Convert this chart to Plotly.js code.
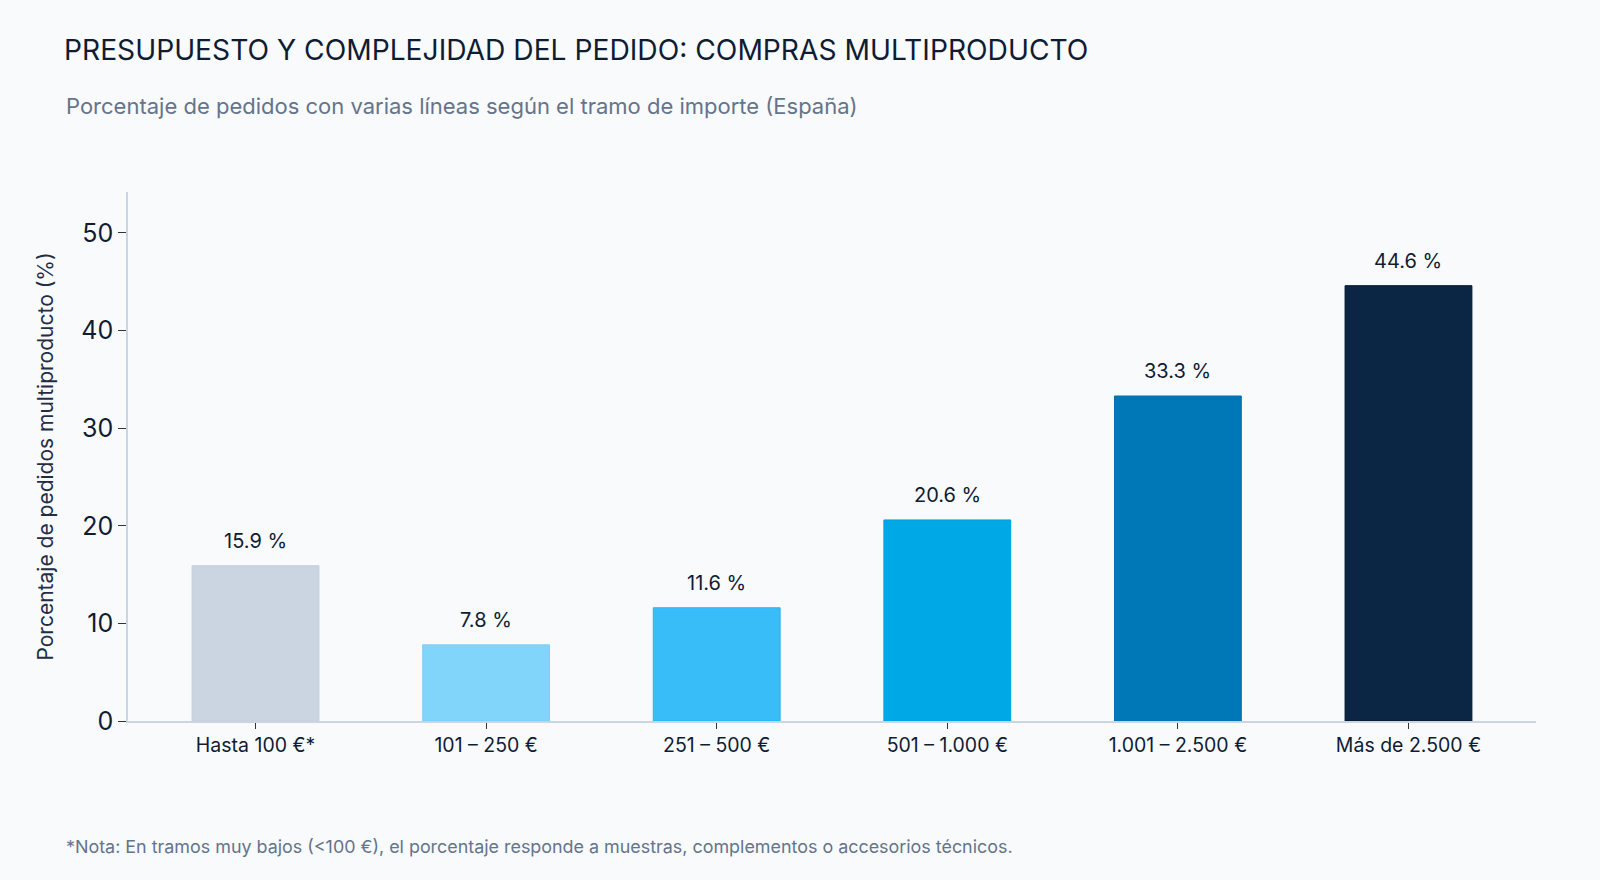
<!DOCTYPE html>
<html>
<head>
<meta charset="utf-8">
<script src="https://cdn.plot.ly/plotly-3.0.1.min.js"></script>
<style>
  html, body { margin: 0; padding: 0; background: #f8fafc; }
  #chart { width: 1600px; height: 880px; }
</style>
</head>
<body>
<div id="chart"></div>
<script>
// Tramos de importe y porcentaje de pedidos multiproducto
const tramos = ['Hasta 100 €*', '101 – 250 €', '251 – 500 €', '501 – 1.000 €', '1.001 – 2.500 €', 'Más de 2.500 €'];
const porcentajes = [15.9, 7.8, 11.6, 20.6, 33.3, 44.6];
const colores = ['#cbd5e1', '#81d4fa', '#38bdf8', '#00a8e6', '#0077b6', '#0b2545'];
const bordes = ['#c3cedb', '#7ccdf4', '#1fb4f2', '#009fdc', '#0a6fae', '#06162c'];

const FONT = 'Inter, "Open Sans", sans-serif';
const chart = document.getElementById('chart');

// plot area edges in px (used to place the free texts)
const M = { l: 128, r: 64, t: 192, b: 159 };
const plotH = 880 - M.t - M.b;
const plotW = 1600 - M.l - M.r;
const paperX = (px) => (px - M.l) / plotW;
const paperY = (py) => (880 - M.b - py) / plotH;

const data = [
  {
    type: 'bar',
    x: tramos,
    y: porcentajes,
    width: 0.55,
    marker: {
      color: colores,
      line: { color: bordes, width: 1 },
    },
    hoverinfo: 'x+y',
  },
];

// etiquetas de valor sobre cada barra
const etiquetas = tramos.map((t, i) => ({
  x: t,
  y: porcentajes[i],
  xref: 'x',
  yref: 'y',
  text: `${porcentajes[i].toFixed(1)} %`,
  showarrow: false,
  yanchor: 'bottom',
  yshift: 11,
  font: { family: FONT, size: 20, color: '#0f1c33' },
}));

const layout = {
  width: 1600,
  height: 880,
  paper_bgcolor: '#f8fafc',
  plot_bgcolor: '#f8fafc',
  margin: M,
  showlegend: false,
  title: {
    text: 'PRESUPUESTO Y COMPLEJIDAD DEL PEDIDO: COMPRAS MULTIPRODUCTO',
    x: 64 / 1600,
    xanchor: 'left',
    xref: 'container',
    y: 1 - 50 / 880,
    yanchor: 'middle',
    yref: 'container',
    font: { family: FONT, size: 28.2, color: '#0f1c33' },
  },
  xaxis: {
    type: 'category',
    range: [-0.553, 5.553],
    showgrid: false,
    zeroline: false,
    showline: true,
    linecolor: '#cbd5e1',
    linewidth: 1.5,
    ticks: 'outside',
    ticklen: 6,
    tickcolor: '#333',
    tickfont: { family: FONT, size: 19.5, color: '#0f1c33' },
  },
  yaxis: {
    range: [0, 54.2],
    dtick: 10,
    showgrid: false,
    zeroline: false,
    showline: true,
    linecolor: '#cbd5e1',
    linewidth: 1.5,
    ticks: 'outside',
    ticklen: 8,
    tickcolor: '#333',
    tickfont: { family: FONT, size: 25, color: '#0f1c33' },
    title: {
      text: 'Porcentaje de pedidos multiproducto (%)',
      standoff: 22,
      font: { family: FONT, size: 21, color: '#1f2d45' },
    },
  },
  annotations: [
    ...etiquetas,
    {
      text: 'Porcentaje de pedidos con varias líneas según el tramo de importe (España)',
      xref: 'paper',
      yref: 'paper',
      x: paperX(64),
      y: paperY(106),
      xanchor: 'left',
      yanchor: 'middle',
      showarrow: false,
      font: { family: FONT, size: 22, color: '#64748b' },
    },
    {
      text: '*Nota: En tramos muy bajos (<100 €), el porcentaje responde a muestras, complementos o accesorios técnicos.',
      xref: 'paper',
      yref: 'paper',
      x: paperX(64),
      y: paperY(846),
      xanchor: 'left',
      yanchor: 'middle',
      showarrow: false,
      font: { family: FONT, size: 17.9, color: '#64748b' },
    },
  ],
};

Plotly.newPlot(chart, data, layout, { displayModeBar: false, responsive: false });
</script>
</body>
</html>
